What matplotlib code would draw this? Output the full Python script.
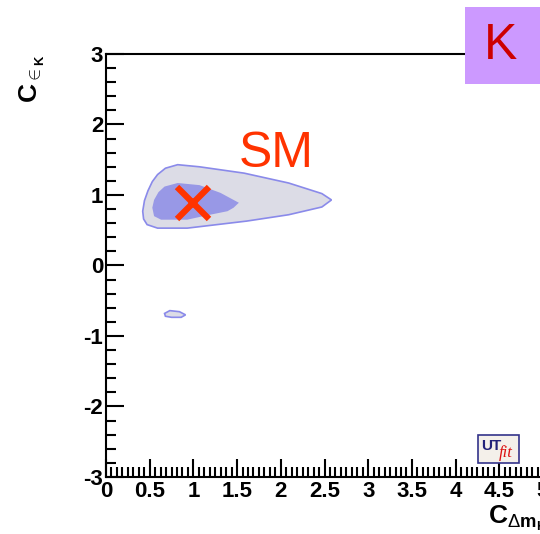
import numpy as np
import matplotlib
matplotlib.use("Agg")
import matplotlib.pyplot as plt
from matplotlib.ticker import MultipleLocator, FuncFormatter
from matplotlib.patches import Rectangle

plt.rcParams['font.family'] = ['Liberation Sans', 'DejaVu Sans']
plt.rcParams['mathtext.fontset'] = 'custom'
plt.rcParams['mathtext.rm'] = 'Liberation Sans'
plt.rcParams['mathtext.bf'] = 'Liberation Sans:bold'
plt.rcParams['mathtext.it'] = 'Liberation Sans:italic'

# 95% region (outer) and 68% region (inner)
outer_x = [0.42, 0.44, 0.48, 0.53, 0.59, 0.68, 0.82, 1.07, 1.58, 2.09, 2.47, 2.58, 2.47, 2.09, 1.61, 0.93, 0.59, 0.47, 0.43]
outer_y = [0.77, 0.92, 1.06, 1.19, 1.29, 1.38, 1.43, 1.40, 1.31, 1.17, 1.02, 0.93, 0.83, 0.72, 0.63, 0.53, 0.53, 0.58, 0.66]

inner_x = [0.53, 0.55, 0.60, 0.67, 0.82, 1.07, 1.31, 1.52, 1.46, 1.39, 1.15, 0.93, 0.63, 0.55]
inner_y = [0.82, 0.93, 1.04, 1.12, 1.17, 1.14, 1.03, 0.89, 0.82, 0.77, 0.71, 0.65, 0.65, 0.70]

island_x = [0.67, 0.73, 0.84, 0.91, 0.86, 0.75, 0.68]
island_y = [-0.68, -0.64, -0.655, -0.70, -0.735, -0.735, -0.72]

sm_x, sm_y = 1.0, 0.88

W, H = 540, 534
fig = plt.figure(figsize=(W / 100, H / 100), dpi=100)
ax = fig.add_axes([106 / W, 1 - 477 / H, 437 / W, 423 / H])

ax.fill(outer_x, outer_y, facecolor='#dcdce6', edgecolor='#8a8aea', lw=1.2, zorder=2)
ax.fill(inner_x, inner_y, facecolor='#9898e6', edgecolor='none', zorder=3)
ax.fill(island_x, island_y, facecolor='#dcdce6', edgecolor='#8a8aea', lw=1.2, zorder=2)

ax.plot([sm_x], [sm_y], marker='x', color='#ff3300', markersize=23, mew=4.5, zorder=5)
ax.text(1.95, 1.58, 'SM', color='#ff3300', fontsize=36, ha='center', va='center', zorder=5)

ax.set_xlim(0, 5)
ax.set_ylim(-3, 3)
ax.xaxis.set_major_locator(MultipleLocator(0.5))
ax.xaxis.set_minor_locator(MultipleLocator(0.5 / 8))
ax.yaxis.set_major_locator(MultipleLocator(1))
ax.yaxis.set_minor_locator(MultipleLocator(0.2))
ax.xaxis.set_major_formatter(FuncFormatter(lambda v, p: f'{v:g}'))
ax.yaxis.set_major_formatter(FuncFormatter(lambda v, p: f'{v:g}'))
ax.tick_params(which='both', direction='in', top=False, right=False, width=1.5, colors='black')
ax.tick_params(which='major', length=13, labelsize=16)
ax.tick_params(axis='x', which='major', pad=3)
ax.tick_params(axis='y', which='major', pad=2)
ax.tick_params(which='minor', length=7)
for lab in ax.get_xticklabels() + ax.get_yticklabels():
    lab.set_fontweight('bold')
for s in ax.spines.values():
    s.set_linewidth(1.5)

# axis titles
fig.text(32 / W, 1 - 78 / H, r'$\mathbf{C}_{\in_{\mathbf{K}}}$', rotation=90, fontsize=19,
         ha='center', va='center')
fig.text(488 / W, 1 - 518 / H, r'$\mathbf{C}_{\Delta \mathbf{m}_{\mathbf{K}}}$', fontsize=19,
         ha='left', va='center')

# K badge
fig.patches.append(Rectangle((465 / W, 1 - 84 / H), 80 / W, 77 / H, transform=fig.transFigure,
                             facecolor='#cc99ff', edgecolor='none'))
fig.text(501 / W, 1 - 46 / H, 'K', color='#cc0000', fontsize=36, ha='center', va='center')

# UTfit logo
fig.patches.append(Rectangle((478 / W, 1 - 463 / H), 41 / W, 28 / H, transform=fig.transFigure,
                             facecolor='#f4f0ea', edgecolor='#33338a', lw=1.2, zorder=6))
fig.text(481 / W, 1 - 446 / H, 'UT', color='#22227a', fontsize=11, fontweight='bold',
         ha='left', va='center', zorder=7)
fig.text(499 / W, 1 - 453 / H, 'fit', color='#dd1111', fontsize=12, style='italic',
         family='Liberation Serif', ha='left', va='center', zorder=7)

fig.savefig('out.png', dpi=100)
